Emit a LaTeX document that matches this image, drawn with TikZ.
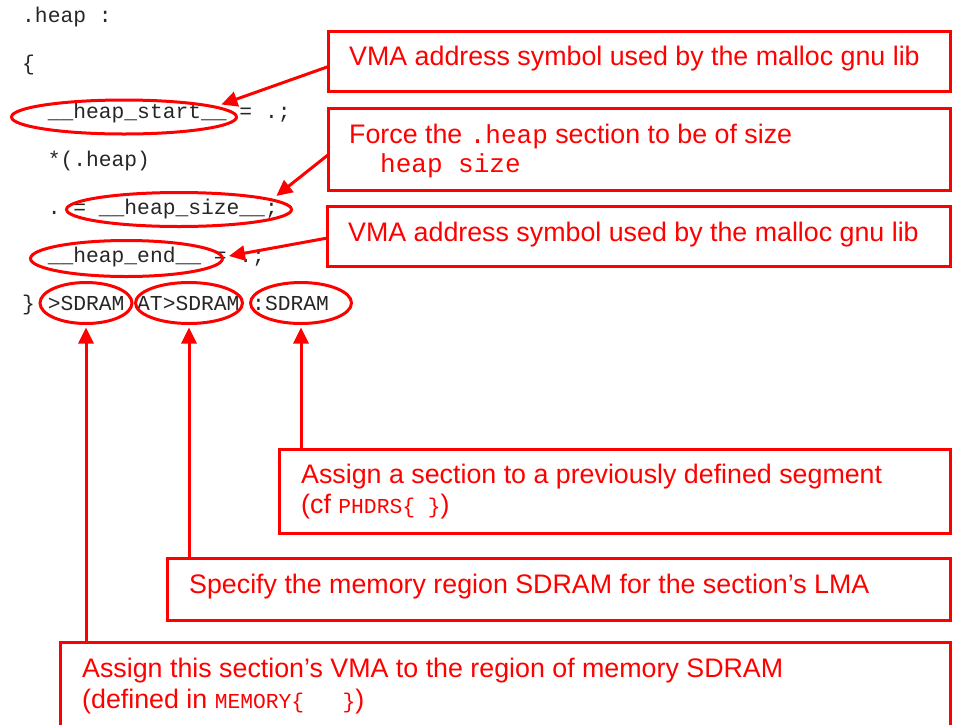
\documentclass[tikz,border=0pt]{standalone}
\usepackage{fontspec}
\setmainfont{Liberation Sans}
\setmonofont{Liberation Mono}
\usetikzlibrary{arrows.meta,shapes.geometric}
\newcommand\codefont{\ttfamily\fontsize{21.3}{25}\selectfont}
\newcommand\notefont{\fontsize{26.8}{30}\selectfont}
\newcommand\notemono{\ttfamily\fontsize{21.3}{30}\selectfont}
\newcommand\notemonobig{\ttfamily\fontsize{26}{30}\selectfont}
\begin{document}
\begin{tikzpicture}[x=1pt,y=-1pt,
  code/.style={inner sep=0, anchor=base west, font=\codefont, text=black!85},
  note/.style={inner sep=0, anchor=base west, font=\notefont, text=red},
  box/.style={draw=red, line width=3pt, rectangle, inner sep=0, outer sep=0, anchor=north west},
  oval/.style={draw=red, line width=3pt, ellipse, inner sep=0, outer sep=0},
  arr/.style={draw=red, line width=3pt, -{Triangle[length=16pt,width=15pt]}}]
\useasboundingbox (0,0) rectangle (961,724);
% code lines
\node[code] (l1) at (22,22) {.heap~:};
\node[code] (l2) at (22,70) {\{};
\node[code] (l3) at (22,118) {~~\_\_heap\_start\_\_~=~.;};
\node[code] (l4) at (22,166) {~~*(.heap)};
\node[code] (l5) at (22,214) {~~.~=~\_\_heap\_size\_\_;};
\node[code] (l6) at (22,262) {~~\_\_heap\_end\_\_~=~.;};
\node[code] (l7) at (22,310) {\}~>SDRAM~AT>SDRAM~:SDRAM};
% ovals
\node[oval, minimum width=225, minimum height=34] (es) at (124,117) {};
\node[oval, minimum width=225, minimum height=34] (ez) at (179,209.5) {};
\node[oval, minimum width=192, minimum height=36] (ee) at (126.5,258.5) {};
\node[oval, minimum width=92, minimum height=41] (ev) at (86,303) {};
\node[oval, minimum width=107, minimum height=41] (el) at (189,303) {};
\node[oval, minimum width=101, minimum height=41] (ep) at (301,303) {};
% boxes
\node[box, minimum width=622, minimum height=60] (b1) at (328.5,31.5) {};
\node[box, minimum width=622, minimum height=82] (b2) at (328.5,108.5) {};
\node[box, minimum width=623, minimum height=60] (b3) at (327.5,206.5) {};
\node[box, minimum width=671, minimum height=84] (b4) at (279.5,449.5) {};
\node[box, minimum width=783, minimum height=62] (b5) at (167.5,558.5) {};
\node[box, minimum width=890, minimum height=100] (b6) at (60.5,642.5) {};
% texts
\node[note] (t1) at (349,65) {VMA address symbol used by the malloc gnu lib};
\node[note] (t2) at (349,143) {Force the {\notemonobig .heap} section to be of size};
\node[note] (t2b) at (380,172) {\notemonobig heap size};
\node[note] (t3) at (348,241) {VMA address symbol used by the malloc gnu lib};
\node[note] (t4) at (301,483) {Assign a section to a previously defined segment};
\node[note] (t4b) at (301,513) {(cf {\notemono PHDRS\{~\}})};
\node[note] (t5) at (189,593) {Specify the memory region SDRAM for the section’s LMA};
\node[note] (t6) at (82,677) {Assign this section’s VMA to the region of memory SDRAM};
\node[note] (t6b) at (82,708) {(defined in {\notemono MEMORY\{~~~\}})};
% arrows
\draw[arr] ([yshift=-5pt]b1.west) -- ([yshift=4pt]es.5);
\draw[arr] ([yshift=-5pt]b2.west) -- ([yshift=5pt]ez.5);
\draw[arr] ([yshift=-1.5pt]b3.west) -- ([xshift=6.5pt,yshift=2.5pt]ee.east);
\draw[arr] (b6.north -| ev.south) -- ([yshift=-4pt]ev.south);
\draw[arr] (b5.north -| el.south) -- ([yshift=-4pt]el.south);
\draw[arr] (b4.north -| ep.south) -- ([yshift=-4pt]ep.south);
\end{tikzpicture}
\end{document}
